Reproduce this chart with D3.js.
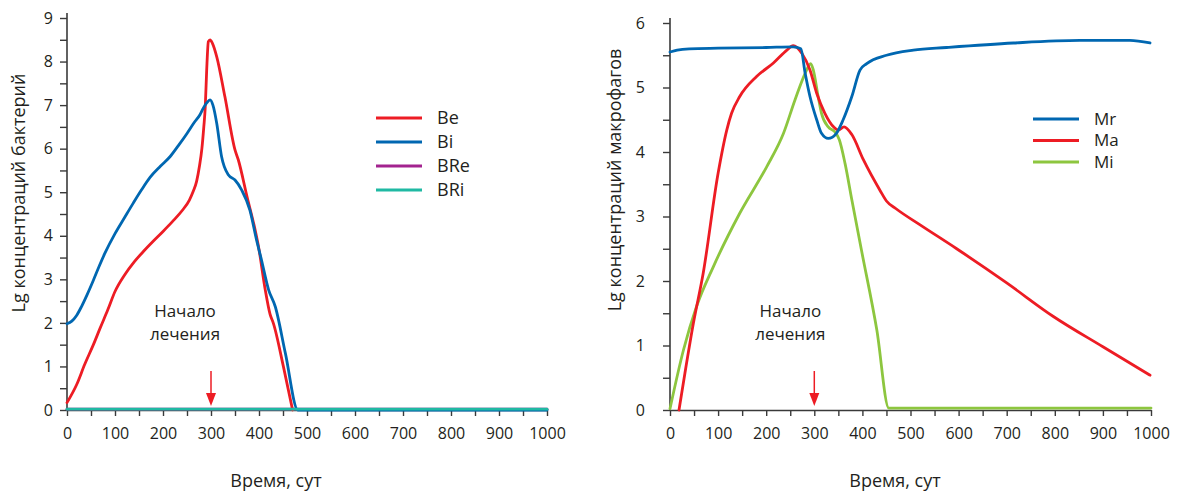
<!DOCTYPE html>
<html><head><meta charset="utf-8">
<script src="https://cdn.jsdelivr.net/npm/d3@7"></script>
<style>
html,body{margin:0;padding:0;background:#fff;}
svg text{font-family:"Open Sans","Noto Sans",sans-serif;fill:#231f20;}
</style></head>
<body><svg id="c" width="1177" height="491"></svg>
<script>
// ---------- Data (left chart: bacteria) ----------
const beT = [0, 20, 37, 55, 69, 85, 100, 120, 140, 160, 180, 200, 220, 240, 255, 263, 270, 276, 281, 285, 288, 291, 294.5, 298, 303, 312, 329, 350, 357, 375, 392, 399, 413, 423, 430, 451, 470];
const beV = [0.17, 0.58, 1.05, 1.5, 1.88, 2.3, 2.72, 3.1, 3.4, 3.65, 3.88, 4.1, 4.33, 4.58, 4.82, 5.02, 5.25, 5.6, 6.0, 6.5, 6.95, 7.8, 8.46, 8.5, 8.42, 8.11, 7.19, 5.97, 5.74, 4.9, 4.13, 3.75, 2.76, 2.2, 1.99, 0.99, 0];
const biT = [0, 10, 20, 30, 42, 55, 67, 79, 100, 120, 138, 155, 173, 195, 215, 232, 250, 265, 277, 284, 291, 298, 304, 312, 322, 336, 350, 364, 381, 395, 404, 420, 434, 455, 481, 1000];
const biV = [1.98, 2.04, 2.17, 2.37, 2.65, 2.98, 3.3, 3.6, 4.05, 4.42, 4.75, 5.05, 5.34, 5.6, 5.82, 6.07, 6.35, 6.6, 6.78, 6.93, 7.05, 7.12, 7.0, 6.58, 5.82, 5.4, 5.28, 5.05, 4.59, 3.9, 3.5, 2.76, 2.37, 1.3, 0, 0];
const breT = [0, 1000];
const breV = [0.02, 0.02];
const briT = [0, 1000];
const briV = [0.02, 0.02];

// ---------- Data (right chart: macrophages) ----------
const mrT = [0, 15, 40, 100, 200, 256, 272, 281, 291, 305, 315, 329, 346, 360, 378, 395, 409, 450, 506, 575, 714, 852, 956, 998];
const mrV = [5.55, 5.58, 5.6, 5.61, 5.62, 5.63, 5.6, 5.22, 4.86, 4.5, 4.29, 4.21, 4.29, 4.5, 4.86, 5.27, 5.37, 5.5, 5.58, 5.62, 5.69, 5.73, 5.73, 5.69];
const maT = [18.7, 31, 48.5, 69, 100, 118, 128, 145, 180, 215, 243, 256, 274, 291, 305, 322, 340, 350, 362, 378, 402, 437, 450, 470, 520, 596, 700, 797, 900, 998];
const maV = [0, 0.57, 1.34, 2.12, 3.67, 4.34, 4.6, 4.86, 5.17, 5.38, 5.58, 5.65, 5.53, 5.27, 4.91, 4.6, 4.39, 4.34, 4.39, 4.27, 3.88, 3.4, 3.24, 3.12, 2.87, 2.5, 1.97, 1.45, 0.98, 0.54];
const miT = [0, 28, 55, 90, 145, 201, 236, 260, 281, 292.5, 298, 308, 315, 329, 343, 352, 364, 378, 398, 430, 455, 1000];
const miV = [0.02, 0.93, 1.6, 2.22, 3.05, 3.77, 4.29, 4.81, 5.22, 5.37, 5.27, 4.86, 4.6, 4.39, 4.31, 4.19, 3.82, 3.26, 2.48, 1.24, 0.03, 0.03];

const xTicks = d3.range(0, 1001, 50);
const treatmentDay = 300;
const annotation = ["Начало", "лечения"];
const xTitle = "Время, сут";

const leftSeries = [
  {name: "BRe", t: breT, v: breV, color: "#a3238f", legend: 2},
  {name: "Be", t: beT, v: beV, color: "#ed1c24", legend: 0},
  {name: "Bi", t: biT, v: biV, color: "#0067b1", legend: 1},
  {name: "BRi", t: briT, v: briV, color: "#1fb9a3", legend: 3}
];
const rightSeries = [
  {name: "Mi", t: miT, v: miV, color: "#8dc63f", legend: 2},
  {name: "Ma", t: maT, v: maV, color: "#ed1c24", legend: 1},
  {name: "Mr", t: mrT, v: mrV, color: "#0067b1", legend: 0}
];

const svg = d3.select("#c");

function drawChart(cfg){
  const g = svg.append("g");
  const x = d3.scaleLinear().domain([0, 1000]).range(cfg.xr);
  const y = d3.scaleLinear().domain([0, cfg.ymax]).range([410, cfg.ytop]);

  const xa = g.append("g").attr("transform", "translate(0,410)")
    .call(d3.axisBottom(x).tickValues(xTicks).tickSize(6).tickSizeOuter(0).tickPadding(12)
      .tickFormat(d => d % 100 === 0 ? d : ""));
  const ya = g.append("g").attr("transform", `translate(${cfg.xr[0]},0)`)
    .call(d3.axisLeft(y).tickValues(d3.range(0, cfg.ymax + 0.01, 0.5)).tickSize(7).tickSizeOuter(0)
      .tickPadding(cfg.ypad).tickFormat(d => Number.isInteger(d) ? d : ""));
  [xa, ya].forEach(a => {
    a.select(".domain").attr("stroke", "#3a3a3a").attr("stroke-width", 1.6);
    a.selectAll(".tick line").attr("stroke", "#3a3a3a").attr("stroke-width", 1.4);
    a.selectAll("text").style("font-size", "16px").attr("fill", "#231f20");
  });
  ya.select(".domain").attr("d", `M0,410V${cfg.ytop - 5}`);

  const line = d3.line().x(d => x(d[0])).y(d => y(d[1])).curve(d3.curveMonotoneX);
  cfg.series.forEach(s => {
    g.append("path").datum(s.t.map((t, i) => [t, s.v[i]]))
      .attr("d", line).attr("fill", "none").attr("stroke", s.color)
      .attr("stroke-width", 2.8).attr("stroke-linejoin", "round").attr("stroke-linecap", "round");
  });

  cfg.series.forEach(s => {
    const ly = cfg.legY + s.legend * cfg.legStep;
    g.append("line").attr("x1", cfg.legX).attr("x2", cfg.legX + 46).attr("y1", ly).attr("y2", ly)
      .attr("stroke", s.color).attr("stroke-width", 3);
    g.append("text").attr("x", cfg.legX + 61).attr("y", ly).attr("dy", "0.35em")
      .style("font-size", cfg.legFont + "px").text(s.name);
  });

  const ax = x(treatmentDay);
  g.append("text").attr("x", ax + cfg.annDx).attr("y", 316.5).attr("text-anchor", "middle")
    .style("font-size", "17px").text(annotation[0]);
  g.append("text").attr("x", ax + cfg.annDx).attr("y", 340).attr("text-anchor", "middle")
    .style("font-size", "17px").text(annotation[1]);
  g.append("line").attr("x1", ax).attr("x2", ax).attr("y1", 371).attr("y2", 398)
    .attr("stroke", "#ed1c24").attr("stroke-width", 1.5);
  g.append("path").attr("d", `M${ax - 5},393L${ax + 5},393L${ax},406Z`).attr("fill", "#ed1c24");

  g.append("text").attr("x", cfg.xTitleX).attr("y", 487).attr("text-anchor", "middle")
    .style("font-size", "18px").text(xTitle);
  g.append("text").attr("transform", `translate(${cfg.yTitleX},${cfg.yTitleY}) rotate(-90)`)
    .attr("text-anchor", "middle").style("font-size", "18px").text(cfg.yTitle);
}

drawChart({xr: [67, 547], ymax: 9, ytop: 18, ypad: 7, series: leftSeries,
  legX: 376, legY: 118, legStep: 24, legFont: 18, annDx: -26,
  xTitleX: 276, yTitleX: 25, yTitleY: 193, yTitle: "Lg концентраций бактерий"});
drawChart({xr: [670, 1151], ymax: 6, ytop: 23, ypad: 18, series: rightSeries,
  legX: 1033, legY: 119, legStep: 21.5, legFont: 17, annDx: -24,
  xTitleX: 895, yTitleX: 621, yTitleY: 180, yTitle: "Lg концентраций макрофагов"});
</script>
</body></html>
